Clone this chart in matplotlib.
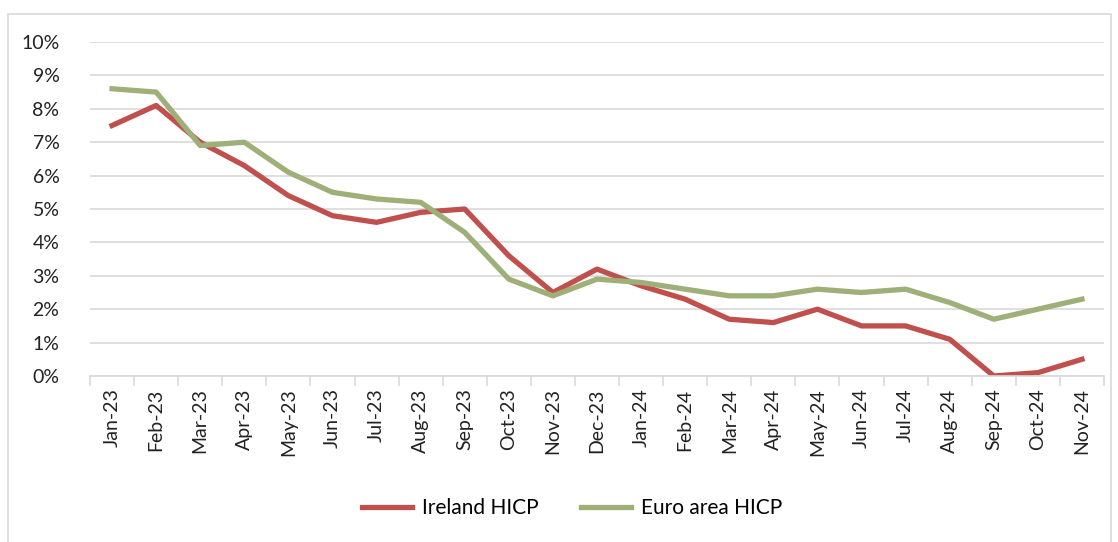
import numpy as np
import matplotlib.pyplot as plt
from matplotlib.patches import Rectangle

months = ['Jan-23', 'Feb-23', 'Mar-23', 'Apr-23', 'May-23', 'Jun-23', 'Jul-23', 'Aug-23',
          'Sep-23', 'Oct-23', 'Nov-23', 'Dec-23', 'Jan-24', 'Feb-24', 'Mar-24', 'Apr-24',
          'May-24', 'Jun-24', 'Jul-24', 'Aug-24', 'Sep-24', 'Oct-24', 'Nov-24']
ireland = [7.5, 8.1, 7.0, 6.3, 5.4, 4.8, 4.6, 4.9, 5.0, 3.6, 2.5, 3.2,
           2.7, 2.3, 1.7, 1.6, 2.0, 1.5, 1.5, 1.1, 0.0, 0.1, 0.5]
euro = [8.6, 8.5, 6.9, 7.0, 6.1, 5.5, 5.3, 5.2, 4.3, 2.9, 2.4, 2.9,
        2.8, 2.6, 2.4, 2.4, 2.6, 2.5, 2.6, 2.2, 1.7, 2.0, 2.3]

plt.rcParams['font.family'] = ['Lato', 'DejaVu Sans']

fig = plt.figure(figsize=(11.18, 5.42), dpi=100)
ax = fig.add_axes([90/1118, 1-376/542, (1104-90)/1118, (376-42)/542])

x = np.arange(len(months))
ax.plot(x, ireland, color='#C0504D', lw=3.8, label='Ireland HICP', solid_joinstyle='round')
ax.plot(x, euro, color='#9EAF78', lw=3.8, label='Euro area HICP', solid_joinstyle='round')

ax.set_xlim(-0.5, len(months) - 0.5)
ax.set_ylim(0, 10)
ax.set_yticks(range(0, 11))
ax.set_yticklabels([f'{v}%' for v in range(0, 11)], fontsize=14, color='#222222')
ax.set_xticks(x)
ax.set_xticklabels(months, rotation=90, fontsize=14, color='#222222')
ax.set_xticks(np.arange(-0.5, len(months)), minor=True)
ax.tick_params(axis='x', which='major', length=0, pad=9)
ax.tick_params(axis='x', which='minor', length=7, color='#D9D9D9', width=1.2)
ax.tick_params(axis='y', length=0, pad=22)

ax.grid(axis='y', color='#D9D9D9', lw=1.2)
ax.set_axisbelow(True)
for s in ['top', 'right', 'left']:
    ax.spines[s].set_visible(False)
ax.spines['bottom'].set_color('#D9D9D9')
ax.spines['bottom'].set_linewidth(1.2)

fig.legend(loc='center', bbox_to_anchor=(572/1118, 1-508/542), ncol=2, frameon=False,
           fontsize=15, handlelength=2.4, columnspacing=2.0, handletextpad=0.5)

fig.patches.append(Rectangle((8/1118, -0.02), (1111-8)/1118, 1-14/542+0.02,
                             transform=fig.transFigure, fill=False, edgecolor='#D9D9D9', lw=1.2))

fig.savefig('out.png', dpi=100)
